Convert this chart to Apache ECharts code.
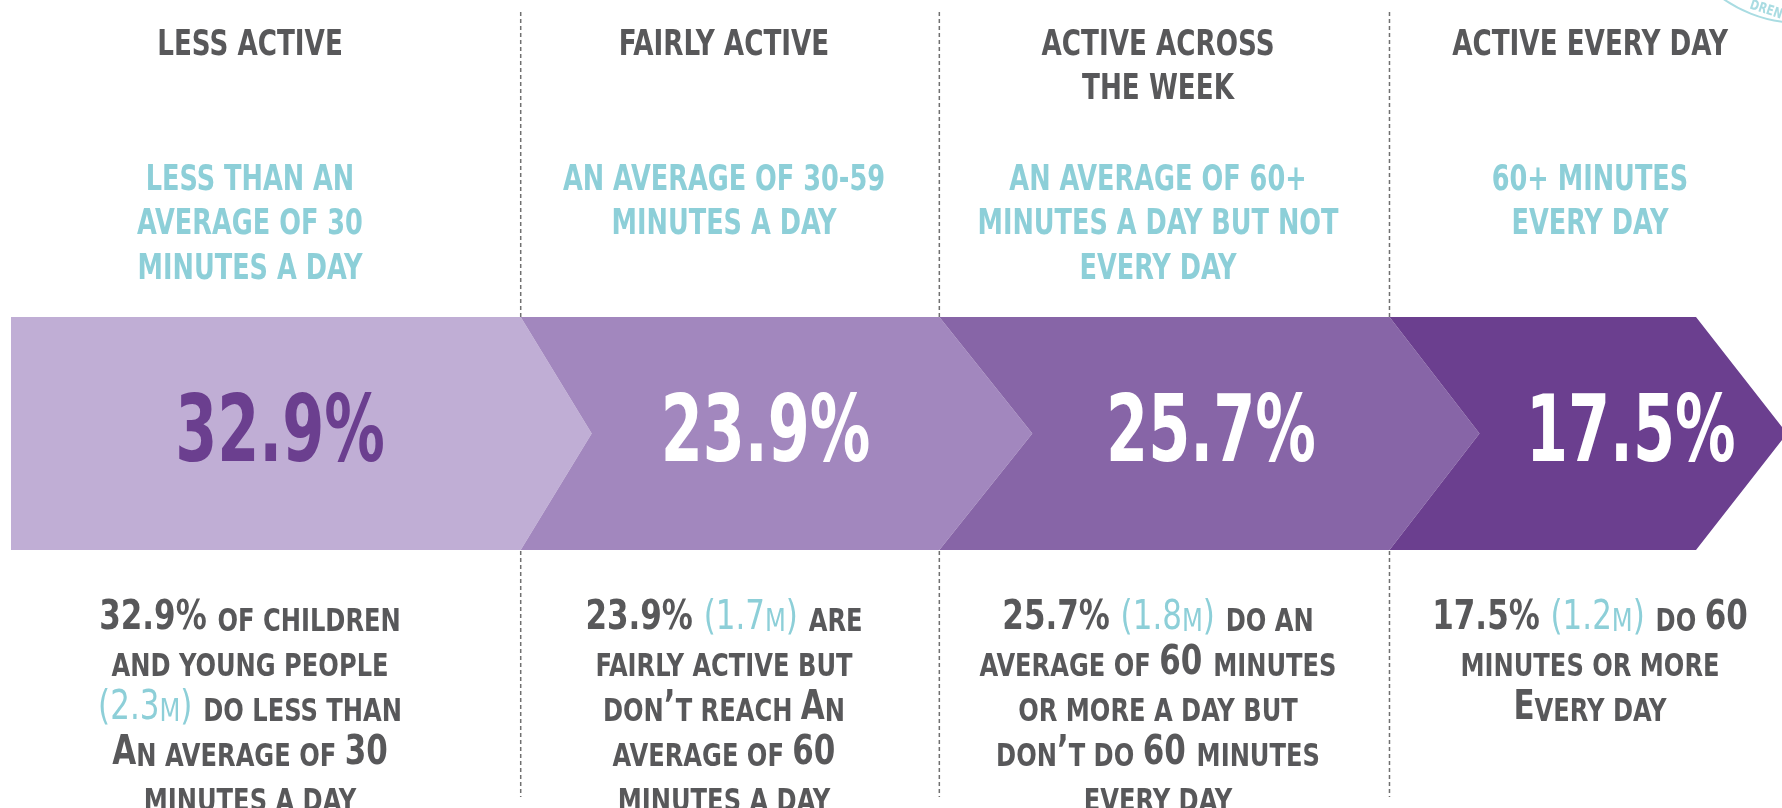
<!DOCTYPE html>
<html>
<head>
<meta charset="utf-8">
<script src="https://cdn.jsdelivr.net/npm/echarts@6/dist/echarts.min.js"></script>
<style>
  html, body { margin: 0; padding: 0; background: #fff; }
  #main { width: 1782px; height: 808px; }
</style>
</head>
<body>
<div id="main"></div>
<script>
// activity levels, left to right
const categories = ['LESS ACTIVE', 'FAIRLY ACTIVE', 'ACTIVE ACROSS\nTHE WEEK', 'ACTIVE EVERY DAY'];
const definitions = [
  'LESS THAN AN\nAVERAGE OF 30\nMINUTES A DAY',
  'AN AVERAGE OF 30-59\nMINUTES A DAY',
  'AN AVERAGE OF 60+\nMINUTES A DAY BUT NOT\nEVERY DAY',
  '60+ MINUTES\nEVERY DAY'
];
const percentages = [32.9, 23.9, 25.7, 17.5];
const millions = [2.3, 1.7, 1.8, 1.2];
// lowercase = small caps, [..] = teal
const descriptions = [
  ['{p}% of children', 'and young people', '[({m}m)] do less than', 'An average of 30', 'minutes a day'],
  ['{p}% [({m}m)] are', 'fairly active but', 'don\u2019t reach An', 'average of 60', 'minutes a day'],
  ['{p}% [({m}m)] do an', 'average of 60 minutes', 'or more a day but', 'don\u2019t do 60 minutes', 'every day'],
  ['{p}% [({m}m)] do 60', 'minutes or more', 'Every day']
];

const bandColors = ['#c0aed5', '#a287be', '#8765a7', '#6b3f8f'];
const pctColors = ['#6b3f8f', '#ffffff', '#ffffff', '#ffffff'];
const tipDepth = [71, 93, 90, 91];
const colCenters = [250, 724, 1158, 1590];

const FONT = "'DejaVu Sans Condensed', 'DejaVu Sans', sans-serif";
const GRAY = '#58585a';
const TEAL = '#8dcfd8';

const chart = echarts.init(document.getElementById('main'));
const W = 1782;

// cumulative start / end for each band segment
let acc = 0;
const segData = percentages.map((p, i) => {
  const s = acc;
  acc += p;
  return [s, acc, p, i];
});

function toRich(line) {
  let out = '', buf = '', cur = null, teal = false;
  const flush = () => { if (buf) out += '{' + cur + '|' + buf + '}'; buf = ''; };
  for (const ch of line) {
    if (ch === '[' || ch === ']') { flush(); teal = ch === '['; cur = null; continue; }
    const small = /[a-z]/.test(ch);
    let cls = (teal ? 't' : 'g') + (small ? 's' : 'b');
    if (ch === ' ' && cur) cls = cur;
    if (cls !== cur) { flush(); cur = cls; }
    buf += small ? ch.toUpperCase() : ch;
  }
  flush();
  return out;
}

const richStyles = {
  gb: { fontFamily: FONT, fontWeight: 'bold', fontSize: 41, fill: GRAY, verticalAlign: 'bottom', lineHeight: 44 },
  gs: { fontFamily: FONT, fontWeight: 'bold', fontSize: 32, fill: GRAY, verticalAlign: 'bottom', lineHeight: 44 },
  tb: { fontFamily: FONT, fontWeight: 'normal', fontSize: 41, fill: TEAL, verticalAlign: 'bottom', lineHeight: 44 },
  ts: { fontFamily: FONT, fontWeight: 'normal', fontSize: 32, fill: TEAL, verticalAlign: 'bottom', lineHeight: 44 }
};

const graphics = [];
categories.forEach((c, i) => {
  graphics.push({
    type: 'text', x: colCenters[i], y: 23, z: 10, scaleX: 0.81,
    style: { text: c, fontFamily: FONT, fontWeight: 'bold', fontSize: 36, fill: GRAY,
      lineHeight: 44.5, textAlign: 'center', textVerticalAlign: 'top' }
  });
  graphics.push({
    type: 'text', x: colCenters[i], y: 158, z: 10, scaleX: 0.79,
    style: { text: definitions[i], fontFamily: FONT, fontWeight: 'bold', fontSize: 36, fill: TEAL,
      lineHeight: 44.5, textAlign: 'center', textVerticalAlign: 'top' }
  });
  descriptions[i].forEach((ln, k) => {
    const txt = ln.replace('{p}', percentages[i].toFixed(1)).replace('{m}', millions[i].toFixed(1));
    graphics.push({
      type: 'text', x: colCenters[i], y: 617 + k * 45, z: 10, scaleX: 0.84,
      style: { text: toRich(txt), rich: richStyles, textAlign: 'center', textVerticalAlign: 'middle' }
    });
  });
});

// stamp in the corner
graphics.push({
  type: 'circle', shape: { cx: 1800, cy: -111, r: 134 },
  style: { fill: 'none', stroke: '#a9dce2', lineWidth: 2 }
});
graphics.push({
  type: 'text', x: 1766, y: 10, rotation: -0.32, scaleX: 0.85,
  style: { text: 'DREN', fontFamily: FONT, fontWeight: 'bold', fontSize: 14, fill: '#a9dce2',
    textAlign: 'center', textVerticalAlign: 'middle' }
});

const option = {
  animation: false,
  grid: { left: 11, right: 86, top: 317, bottom: 258 },
  xAxis: { type: 'value', min: 3.8, max: 100, show: false },
  yAxis: { type: 'value', min: 0, max: 1, show: false },
  graphic: graphics,
  series: [{
    type: 'custom',
    data: segData,
    renderItem: function (params, api) {
      const i = api.value(3);
      const cs = params.coordSys;
      let x0 = api.coord([api.value(0), 0])[0];
      const x1 = api.coord([api.value(1), 0])[0];
      x0 = Math.max(x0, cs.x);
      const yTop = api.coord([0, 1])[1];
      const yBot = api.coord([0, 0])[1];
      const yMid = (yTop + yBot) / 2;
      const dIn = i > 0 ? tipDepth[i - 1] : 0;
      const dOut = tipDepth[i];
      const children = [];
      if (i < percentages.length - 1) {
        children.push({
          type: 'line', z2: 0,
          shape: { x1: x1, y1: 12, x2: x1, y2: 797 },
          style: { stroke: '#707070', lineWidth: 1.5, lineDash: [4, 3] }
        });
      }
      children.push({
        type: 'polygon', z2: 5,
        shape: { points: [[x0, yTop], [x1, yTop], [x1 + dOut, yMid], [x1, yBot], [x0, yBot], [x0 + dIn, yMid]] },
        style: { fill: bandColors[i] }
      });
      const right = i === percentages.length - 1 ? W : x1;
      const cx = (x0 + dIn + right) / 2 + (i === 0 ? dOut / 5 : 0);
      children.push({
        type: 'text', z2: 20, x: cx, y: yMid + 4, scaleX: 0.73,
        style: { text: api.value(2).toFixed(1) + '%', fontFamily: FONT, fontWeight: 'bold',
          fontSize: 92, fill: pctColors[i], textAlign: 'center', textVerticalAlign: 'middle' }
      });
      return { type: 'group', children: children };
    }
  }]
};

option && chart.setOption(option);
</script>
</body>
</html>
